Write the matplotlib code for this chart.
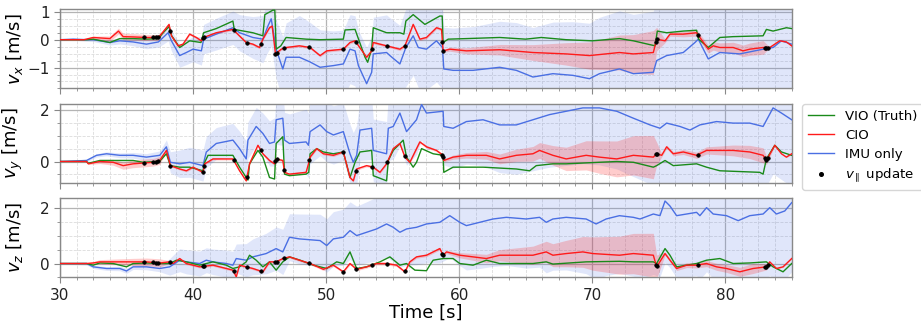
import numpy as np
import matplotlib
matplotlib.use("Agg")
import matplotlib.pyplot as plt
from matplotlib.ticker import MultipleLocator, AutoMinorLocator
from matplotlib.lines import Line2D

# ---------------- data ----------------
# Panel 1: v_x
vx_vio_t = [30, 32, 32.5, 33.75, 34.5, 35.5, 36.5, 37.4, 37.75, 38.2, 38.4, 39, 39.75, 40.6, 40.8, 41.75, 43, 43.1,
            44.5, 45.25, 45.4, 46, 46.15, 46.25, 46.6, 47, 48.5, 49.55, 51.3, 51.43, 52.18, 52.93, 53.13, 53.43, 53.55,
            54.55, 55.55, 55.85, 56, 56.55, 57.43, 58.55, 58.73, 58.8, 59.18, 60.55, 63.05, 65, 66.18, 68.05, 70, 72.05,
            73.1, 74.73, 74.9, 75.6, 76.85, 77.85, 78.0, 78.73, 79.6, 80.6, 82.85, 83.1, 83.6, 84.6, 85]
vx_vio = [0, 0, 0.02, -0.1, 0.04, 0.04, 0.02, 0.04, 0.25, 0.47, 0.14, -0.28, -0.04, -0.1, 0.25, 0.4, 0.67, 0.37,
          0.25, 0.14, 0.9, 1.06, 1.06, -0.34, -0.22, 0.08, 0.02, 0.0, 0.02, 0.35, 0.37, -0.63, -0.81, -0.34, 0.43,
          0.25, 0.25, 0.2, 0.67, 0.9, 0.55, 0.85, 0.85, -0.1, 0.02, 0.04, 0.08, 0.02, 0.08, 0.0, -0.04, 0.04,
          -0.04, -0.22, 0.31, 0.25, 0.31, 0.34, 0.02, -0.28, 0.08, 0.11, 0.14, 0.37, 0.31, 0.43, 0.4]
vx_cio_t = [30, 31.8, 32.5, 33.75, 34.4, 34.75, 35.5, 36.5, 37.4, 37.75, 38.2, 38.38, 38.88, 39.25, 39.75, 40.25,
            40.63, 40.8, 41.75, 43, 43.25, 44, 44.5, 45, 45.25, 45.75, 45.95, 46.2, 46.63, 47, 48, 48.8, 49.55, 50.05,
            51.3, 51.8, 52.18, 53.05, 53.43, 53.55, 54.55, 55.55, 55.93, 56.55, 57.05, 57.55, 58.3, 58.68, 58.8, 59.3,
            60.55, 63.05, 65.55, 68.05, 69.8, 72.05, 73.1, 74.6, 74.85, 75.48, 75.85, 76.85, 77.85, 78.1, 78.73, 79.1,
            79.6, 80.6, 81.35, 81.85, 82.85, 83.35, 84.1, 84.6, 85]
vx_cio = [0, 0, 0.08, 0.04, 0.31, 0.11, 0.1, 0.08, 0.08, 0.28, 0.55, 0.14, -0.22, -0.16, 0.2, 0.08,
          -0.04, 0.08, 0.25, 0.37, 0.25, -0.1, -0.16, -0.28, 0.02, 0.43, 0.49, -0.51, -0.34, -0.28, -0.22, -0.28, -0.57, -0.4,
          -0.34, -0.1, -0.04, -0.63, -0.4, -0.1, -0.22, -0.34, -0.22, 0.55, 0.02, 0.08, 0.43, 0.37, -0.4, -0.34,
          -0.4, -0.36, -0.46, -0.51, -0.57, -0.46, -0.51, -0.46, 0.02, -0.04, 0.2, 0.2, 0.25, 0.08, -0.34, -0.22,
          -0.28, -0.28, -0.4, -0.34, -0.28, -0.28, -0.04, -0.08, -0.22]
vx_imu_t = [30, 31, 32, 32.5, 33.75, 34.5, 35.5, 36.5, 37.4, 38.13, 38.38, 39, 39.5, 40, 40.63, 40.8, 41.75, 43,
            43.5, 44.5, 45.25, 45.63, 45.88, 46.25, 46.75, 47, 48, 48.8, 49.55, 50.55, 51.3, 51.8, 52.18, 52.43, 53.05,
            53.43, 53.55, 54.55, 54.8, 55.55, 56, 56.55, 56.93, 57.55, 58.3, 58.75, 58.85, 59.55, 61.05, 63.05, 64.3,
            65.55, 67.05, 68.55, 69.8, 70.55, 72.05, 73.1, 74.6, 74.85, 75.6, 76.85, 77.73, 77.98, 78.73, 79.6, 81.1,
            82.85, 83.6, 84.23, 85]
vx_imu = [0, 0.02, 0, 0, -0.1, -0.04, -0.08, -0.16, -0.08, 0.25, -0.04, -0.57, -0.46, -0.34, -0.4, 0.02, 0.2, 0.43,
          0.25, 0.08, 0.02, 0.49, 0.75, -0.34, -1.05, -0.63, -0.63, -0.8, -0.99, -0.93, -0.87, -0.34, -0.4, -0.93, -1.58,
          -1.17, -0.51, -0.46, -0.57, -0.87, -0.28, 0.14, -0.28, -0.34, -0.04, -0.28, -1.05, -1.1, -1.1, -0.99, -1.1,
          -1.34, -1.22, -1.28, -1.4, -1.22, -1.05, -1.22, -1.17, -0.75, -0.57, -0.46, -0.1, 0.02, -0.69, -0.46, -0.51,
          -0.34, -0.28, -0.04, -0.16]

# Panel 2: v_y
vy_vio_t = [30, 32, 32.13, 33, 35.5, 36.25, 37.5, 38, 38.3, 39, 39.75, 40.75, 40.88, 41.13, 43, 43.5, 44.13, 44.25,
            44.88, 45.25, 45.75, 46.13, 46.25, 46.75, 46.88, 47.25, 48.5, 48.7, 48.8, 49.3, 49.8, 50.55, 51.3, 51.8,
            52.18, 52.55, 53.43, 53.55, 54.55, 54.68, 55.05, 55.8, 56.05, 56.55, 56.8, 57.18, 58.05, 58.8, 58.85, 59.55,
            61.8, 64.3, 65.3, 65.8, 67.05, 68.05, 70.55, 71.85, 73.1, 74.6, 74.85, 75.48, 76.1, 77.85, 78.6, 79.6, 80.6,
            82.6, 82.85, 83.1, 83.73, 84.23, 85]
vy_vio = [0, 0, -0.07, 0.04, 0.04, -0.03, 0.01, 0.3, -0.16, -0.22, -0.22, -0.36, -0.03, 0.24, 0.24, -0.22, -0.72, -0.09,
          0.43, 0.17, -0.62, -0.68, 0.7, 0.96, -0.49, -0.55, -0.49, -0.42, 0.3, 0.5, 0.37, 0.3, 0.37, -0.62,
          -0.03, 0.37, 0.43, -0.55, -0.75, 0.04, 0.43, 0.83, 0.17, -0.22, -0.03, 0.5, 0.3, 0.24, -0.42, -0.22,
          -0.22, -0.29, -0.36, -0.16, -0.09, -0.09, -0.03, 0.0, -0.03, -0.22, -0.16, 0.04, -0.16, -0.09, -0.22, -0.36, -0.38,
          -0.42, -0.49, 0.1, 0.63, 0.37, 0.24]
vy_cio_t = [30, 32, 32.13, 33, 34, 34.75, 35.5, 37, 37.5, 38, 38.3, 39, 39.5, 40, 40.75, 40.88, 41.5, 43, 43.5, 44,
            44.25, 44.88, 45.25, 45.75, 46.13, 46.25, 46.75, 46.88, 47.25, 48.5, 48.68, 48.8, 49.3, 49.8, 50.55, 51.3,
            51.8, 52.05, 52.3, 53.05, 53.55, 54.05, 54.55, 55.05, 55.55, 55.93, 56.3, 57.05, 57.55, 58.3, 58.8, 58.85,
            59.55, 60.55, 62.05, 63.05, 64.3, 65.55, 66.05, 67.05, 68.05, 69.55, 70.55, 71.85, 73.1, 74.6, 74.85, 75.23,
            75.6, 76.1, 76.85, 77.85, 78.6, 79.6, 80.6, 81.85, 82.85, 83.1, 83.73, 84.23, 84.6, 85]
vy_cio = [0, 0, -0.09, 0, -0.03, -0.16, -0.09, -0.03, 0.04, 0.43, -0.16, -0.29, -0.36, -0.22, -0.42, -0.09, 0.1, 0.1, -0.36, -0.75,
          -0.09, 0.63, 0.3, 0.04, -0.09, 0.1, 0.04, -0.42, -0.49, -0.42, -0.09, 0.17, 0.5, 0.3, 0.24, 0.37,
          -0.62, -0.75, -0.29, -0.16, -0.22, -0.42, -0.09, 0.5, 0.7, 0.17, -0.03, 0.76, 0.57, 0.43, 0.24, 0.04,
          0.17, 0.24, 0.24, 0.1, 0.24, 0.3, 0.43, 0.24, 0.1, 0.24, 0.17, 0.1, 0.24, 0.17, 0.3, 0.24,
          0.57, 0.3, 0.37, 0.24, 0.43, 0.43, 0.43, 0.37, 0.24, 0.04, 0.63, 0.3, 0.17, 0.3]
vy_imu_t = [30, 32, 32.75, 33.5, 34.5, 35.5, 36.5, 37.5, 38, 38.3, 39, 39.75, 40.75, 41, 41.75, 43, 43.5, 44, 44.13,
            44.75, 45.25, 45.75, 46.13, 46.25, 46.75, 46.88, 47.25, 48.5, 48.68, 48.8, 49.55, 50.05, 50.55, 51.3, 51.8,
            52.05, 52.3, 52.55, 53.43, 53.55, 54.55, 54.68, 55.05, 55.55, 56.05, 56.8, 57.18, 57.55, 58.8, 58.85, 59.55,
            60.55, 61.8, 63.05, 64.3, 65.55, 66.8, 68.05, 69.3, 70.55, 71.85, 73.1, 74.35, 75.1, 75.6, 76.6, 77.35,
            78.1, 79.35, 80.6, 81.85, 82.85, 83.6, 84.23, 85]
vy_imu = [0, 0.04, 0.24, 0.3, 0.24, 0.24, 0.17, 0.24, 0.57, -0.03, -0.09, -0.03, -0.16, 0.37, 0.7, 0.83, 0.5, 0.1, 0.83,
          1.36, 1.09, 0.7, 0.76, 1.62, 1.68, 0.83, 0.7, 0.76, 0.63, 1.16, 1.42, 1.16, 1.03, 1.16, 0.3,
          -0.03, 0.24, 1.22, 1.29, 0.43, 0.3, 1.29, 1.36, 1.88, 1.16, 1.62, 2.21, 1.88, 1.95, 1.36, 1.29,
          1.55, 1.62, 1.42, 1.42, 1.62, 1.82, 1.95, 2.08, 2.08, 1.95, 1.68, 1.42, 1.29, 1.49, 1.36, 1.22,
          1.42, 1.55, 1.49, 1.49, 1.36, 2.08, 1.88, 1.62]

# Panel 3: v_z
vz_vio_t = [30, 32, 32.5, 33, 34, 35, 35.5, 36.5, 37.5, 38.25, 38.75, 39.5, 40.5, 41.5, 42.5, 43, 43.5, 44, 44.25,
            44.75, 45.25, 45.75, 46.25, 46.75, 47.25, 48.05, 49.05, 50.05, 50.8, 51.3, 51.8, 52.05, 52.3, 53.05, 54.05,
            54.8, 55.55, 56.05, 56.68, 57.55, 57.8, 58.05, 58.8, 59.55, 60.05, 61.05, 62.05, 63.05, 65.55, 66.55, 67.05,
            69.55, 72.05, 73.1, 74.6, 74.85, 75.48, 75.85, 76.35, 77.1, 77.85, 78.6, 79.6, 80.6, 81.85, 83.1, 83.6,
            84.35, 85]
vz_vio = [0, 0, -0.06, 0.02, 0, -0.12, 0, 0.02, 0, 0, 0.12, 0.06, -0.06, 0.06, -0.06, -0.18, -0.12, 0.06, 0.3,
          0.12, -0.12, 0.06, -0.24, 0.06, 0.24, 0.12, -0.06, -0.18, 0.06, 0, 0.42, 0.12, -0.18, -0.12, 0.06,
          0.24, -0.06, 0, -0.24, -0.26, -0.06, 0.12, 0.18, 0.18, 0, -0.06, 0.12, 0, 0, 0.06, -0.02,
          0.06, 0.08, 0.06, 0.06, 0, 0.54, 0.3, -0.12, -0.06, 0, 0.12, 0.18, 0, 0.02, 0.06, -0.12,
          -0.3, 0]
vz_cio_t = [30, 32, 32.5, 33, 34.5, 35.5, 36.5, 37.5, 38.25, 38.5, 39, 39.5, 40.5, 41.5, 42.5, 43, 43.25, 43.5, 44,
            44.5, 45.25, 45.75, 46.25, 46.75, 47.25, 48, 48.8, 49.8, 50.55, 51.3, 51.8, 52.3, 53.05, 53.8, 54.55, 55.3,
            55.93, 56.3, 56.8, 57.55, 58.3, 58.55, 58.8, 59.05, 60.05, 61.05, 62.05, 63.05, 65.55, 66.55, 67.05, 68.05,
            69.3, 70.05, 72.05, 73.1, 74.6, 74.85, 75.48, 75.85, 76.35, 77.1, 77.85, 78.6, 79.35, 80.1, 81.1, 82.1,
            83.1, 83.35, 83.85, 84.35, 85]
vz_cio = [0, 0, 0.02, 0.06, 0.06, 0.06, 0.06, 0.02, 0.06, 0, 0.18, 0, -0.12, -0.06, -0.18, -0.24, -0.48, -0.06, -0.12,
          -0.18, -0.3, 0.06, 0.06, 0.18, 0.24, 0.12, 0, -0.21, -0.06, -0.3, 0, -0.21, -0.12, 0, 0, -0.06,
          -0.3, 0.06, 0.24, 0.3, 0.48, 0.54, 0.3, 0.42, 0.3, 0.24, 0.18, 0.3, 0.3, 0.42, 0.3, 0.36,
          0.42, 0.36, 0.3, 0.36, 0.3, -0.12, 0.36, 0.12, -0.18, -0.06, -0.06, 0, -0.12, -0.18, -0.3, -0.18,
          -0.12, 0.06, -0.18, -0.12, 0.18]
vz_imu_t = [30, 32, 32.5, 33.5, 34.5, 35, 35.5, 36.5, 37.5, 38.25, 39, 39.5, 40.5, 41, 41.5, 42.5, 43, 43.25, 44,
            44.5, 45.5, 46.25, 46.75, 47.25, 48, 49.55, 50.05, 50.55, 51.3, 51.8, 52.3, 53.05, 53.8, 54.55, 55.05,
            55.55, 56.05, 56.8, 57.55, 58.55, 59.3, 60.05, 60.55, 61.55, 62.55, 63.55, 65.05, 66.05, 66.55, 67.05,
            68.05, 69.55, 70.3, 71.05, 72.05, 73.1, 73.6, 74.6, 75.1, 75.48, 75.85, 76.35, 77.1, 77.85, 78.1, 78.6,
            79.1, 80.1, 80.98, 81.85, 82.85, 83.35, 83.85, 84.48, 85]
vz_imu = [0, 0, -0.12, -0.18, -0.18, -0.27, -0.12, -0.12, -0.18, -0.12, 0.12, 0.06, 0, 0.12, 0.06, 0, -0.06, 0.18, 0.12,
          0.24, 0.36, 0.54, 0.42, 0.95, 0.89, 0.83, 0.65, 0.89, 0.95, 1.19, 1.01, 1.13, 1.25, 1.43, 1.31,
          1.13, 1.25, 1.31, 1.43, 1.49, 1.73, 1.49, 1.37, 1.49, 1.61, 1.67, 1.61, 1.67, 1.49, 1.61,
          1.67, 1.61, 1.43, 1.61, 1.73, 1.67, 1.61, 1.79, 1.73, 2.26, 2.08, 1.73, 1.79, 1.85, 1.73, 2.02,
          1.79, 1.73, 1.55, 1.73, 1.79, 2.02, 1.79, 1.9, 2.2]

# IMU-only 1-sigma envelope (per panel)
imu_sig_t = [30, 32, 36, 37.8, 38.5, 40, 41, 43, 45, 46.5, 48, 51, 53, 56, 59, 62, 66, 70, 74.8, 78, 85]
imu_sig_x = [0.02, 0.05, 0.15, 0.2, 0.4, 0.45, 0.55, 0.6, 0.8, 1.1, 1.5, 1.2, 1.3, 1.4, 1.5, 1.6, 1.8, 2.0, 2.2, 2.3, 2.5]
imu_sig_y = [0.02, 0.05, 0.12, 0.18, 0.5, 0.6, 0.6, 0.65, 0.75, 1.0, 1.3, 1.1, 1.2, 1.3, 1.5, 1.8, 2.0, 2.2, 2.3, 2.4, 2.6]
imu_sig_z = [0.02, 0.05, 0.1, 0.12, 0.4, 0.45, 0.45, 0.5, 0.7, 0.8, 0.9, 1.0, 1.1, 1.3, 1.5, 1.7, 1.8, 2.0, 2.2, 2.3, 2.5]

# CIO 1-sigma envelope (per panel)
cio_sig_t = [30, 32, 33, 35, 37.5, 38, 58.8, 59.5, 62, 66, 70, 74.8, 74.9, 79, 83.05, 83.15, 85]
cio_sig_x = [0.0, 0.02, 0.08, 0.12, 0.1, 0.04, 0.05, 0.08, 0.15, 0.3, 0.5, 0.8, 0.05, 0.15, 0.25, 0.02, 0.02]
cio_sig_y = [0.0, 0.02, 0.08, 0.15, 0.15, 0.04, 0.05, 0.08, 0.15, 0.3, 0.6, 0.85, 0.05, 0.15, 0.3, 0.02, 0.02]
cio_sig_z = [0.0, 0.02, 0.08, 0.12, 0.15, 0.04, 0.05, 0.08, 0.15, 0.35, 0.6, 0.8, 0.05, 0.12, 0.2, 0.02, 0.02]

# times of v_parallel updates
update_t = [36.3, 37.0, 37.2, 37.35, 38.3, 40.75, 40.85, 43.05, 44.05, 45.1, 46.2, 46.3, 46.85, 48.75,
            51.3, 52.25, 53.45, 54.6, 55.9, 58.75, 58.82, 74.8, 74.88, 77.95, 83.0, 83.1, 83.2]

panels = [
    dict(vio=(vx_vio_t, vx_vio), cio=(vx_cio_t, vx_cio), imu=(vx_imu_t, vx_imu), isig=imu_sig_x, csig=cio_sig_x,
         ylabel=r'$v_x$ [m/s]', ylim=(-1.75, 1.1), major=1.0),
    dict(vio=(vy_vio_t, vy_vio), cio=(vy_cio_t, vy_cio), imu=(vy_imu_t, vy_imu), isig=imu_sig_y, csig=cio_sig_y,
         ylabel=r'$v_y$ [m/s]', ylim=(-0.83, 2.25), major=2.0),
    dict(vio=(vz_vio_t, vz_vio), cio=(vz_cio_t, vz_cio), imu=(vz_imu_t, vz_imu), isig=imu_sig_z, csig=cio_sig_z,
         ylabel=r'$v_z$ [m/s]', ylim=(-0.5, 2.37), major=2.0),
]

C_VIO = '#1a8a1a'
C_CIO = '#ff1a1a'
C_IMU = '#4a6fe3'

fig = plt.figure(figsize=(9.21, 3.24), dpi=100)
axes = fig.subplots(3, 1, sharex=True)
fig.subplots_adjust(left=0.0651, right=0.8596, top=0.972, bottom=0.144, hspace=0.19)

for ax, p in zip(axes, panels):
    it, iv = np.array(p['imu'][0]), np.array(p['imu'][1])
    ct, cv = np.array(p['cio'][0]), np.array(p['cio'][1])
    gt, gv = np.array(p['vio'][0]), np.array(p['vio'][1])
    isg = np.interp(it, imu_sig_t, p['isig'])
    csg = np.interp(ct, cio_sig_t, p['csig'])
    ax.fill_between(it, iv - isg, iv + isg, color=C_IMU, alpha=0.17, lw=0, zorder=1)
    ax.fill_between(ct, cv - csg, cv + csg, color=C_CIO, alpha=0.22, lw=0, zorder=2)
    ax.plot(it, iv, color=C_IMU, lw=1.0, zorder=3)
    ax.plot(gt, gv, color=C_VIO, lw=1.0, zorder=4)
    ax.plot(ct, cv, color=C_CIO, lw=1.0, zorder=5)
    ax.plot(update_t, np.interp(update_t, ct, cv), 'o', color='black', ms=2.6, mew=0.4, zorder=6)

    ax.set_xlim(30, 85)
    ax.set_ylim(*p['ylim'])
    ax.xaxis.set_major_locator(MultipleLocator(10))
    ax.xaxis.set_minor_locator(AutoMinorLocator(8))
    ax.yaxis.set_major_locator(MultipleLocator(p['major']))
    ax.yaxis.set_minor_locator(AutoMinorLocator(4))
    ax.grid(which='major', color='#b4b4b4', lw=0.9, zorder=0)
    ax.grid(which='minor', color='#dcdcdc', lw=0.6, ls='--', zorder=0)
    ax.set_axisbelow(True)
    for s in ax.spines.values():
        s.set_color('#888888')
        s.set_linewidth(1.0)
    ax.tick_params(which='both', colors='#888888', labelcolor='#222222', labelsize=11)
    ax.tick_params(which='major', length=4)
    ax.tick_params(which='minor', length=2.5)
    ax.set_ylabel(p['ylabel'], fontsize=13)
    ax.yaxis.set_label_coords(-0.048, 0.5)

axes[-1].set_xlabel('Time [s]', fontsize=13, labelpad=1)

handles = [Line2D([], [], color=C_VIO, lw=1.0),
           Line2D([], [], color=C_CIO, lw=1.0),
           Line2D([], [], color=C_IMU, lw=1.0),
           Line2D([], [], ls='none', marker='o', color='black', ms=2.6)]
labels = ['VIO (Truth)', 'CIO', 'IMU only', r'$v_\parallel$ update']
fig.legend(handles, labels, loc='center left', bbox_to_anchor=(0.871, 0.546), fontsize=9.6,
           labelspacing=0.45, frameon=True, borderaxespad=0.0)

fig.savefig('out.png', dpi=100)
